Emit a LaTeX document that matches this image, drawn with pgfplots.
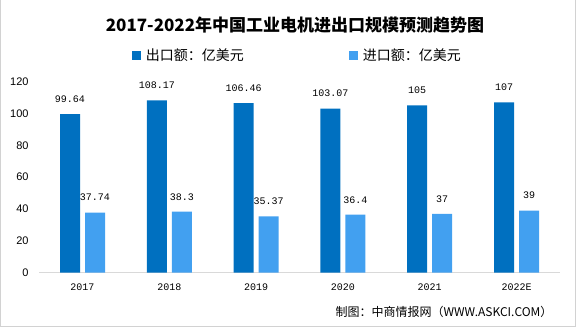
\documentclass[border=0pt]{standalone}
\usepackage{pgfplots}
\pgfplotsset{compat=1.18}
\usepackage{fontspec}
\setmainfont{Liberation Sans}
\newfontfamily\cjk{Noto Sans CJK SC}
\newfontfamily\mono{Liberation Mono}
\definecolor{darkb}{RGB}{0,112,192}
\definecolor{lightb}{RGB}{66,160,240}
\definecolor{axisg}{RGB}{217,217,217}
\definecolor{frameg}{RGB}{210,210,210}
\begin{document}
\begin{tikzpicture}[x=1pt,y=1pt]
\useasboundingbox (0,0) rectangle (581,327);
\draw[frameg, line width=1pt] (0.5,1) rectangle (575,327.5);
\node[font=\cjk\bfseries\fontsize{17}{18}\selectfont] at (295,302) {2017-2022年中国工业电机进出口规模预测趋势图};
\begin{axis}[
  at={(39.1pt,54.3pt)}, anchor=south west,
  scale only axis, width=520.8pt, height=191.1pt,
  xmin=-0.5, xmax=5.5, ymin=0, ymax=120,
  ybar=5pt, bar width=20pt,
  separate axis lines,
  axis x line*=bottom, axis y line*=left,
  x axis line style={draw=axisg, line width=0.8pt, -},
  y axis line style={draw=none},
  tick style={draw=none}, major tick length=0pt,
  ytick={0,20,...,120},
  xtick={0,1,2,3,4,5},
  xticklabels={2017,2018,2019,2020,2021,2022E},
  /pgf/number format/assume math mode=true,
  y tick label style={font=\fontsize{11}{12}\selectfont, xshift=-7pt},
  x tick label style={font=\mono\fontsize{10}{10}\selectfont, yshift=-8pt},
  nodes near coords,
  every node near coord/.append style={font=\mono\fontsize{10}{11}\selectfont, yshift=8pt, text=black},
  point meta=explicit symbolic,
  legend columns=2,
  legend image code/.code={\fill[#1] (0pt,-4.5pt) rectangle (9pt,4.5pt);},
  legend style={draw=none, fill=none, inner sep=0pt, at={(rel axis cs:0.178,1.139)}, anchor=west,
    font=\cjk\fontsize{14}{15}\selectfont,
    nodes={inner sep=0pt},
    /tikz/every odd column/.append style={column sep=5pt},
    /tikz/every even column/.append style={column sep=105pt}},
]
\addplot[fill=darkb, draw=none] coordinates {(0,99.64)[99.64] (1,108.17)[108.17] (2,106.46)[106.46] (3,103.07)[103.07] (4,105)[105] (5,107)[107]};
\addlegendentry{出口额：亿美元}
\addplot[fill=lightb, draw=none] coordinates {(0,37.74)[37.74] (1,38.3)[38.3] (2,35.37)[35.37] (3,36.4)[36.4] (4,37)[37] (5,39)[39]};
\addlegendentry{进口额：亿美元}
\end{axis}
\node[anchor=east, font=\cjk\fontsize{12}{13}\selectfont] at (556,15) {制图：中商情报网（WWW.ASKCI.COM）};
\end{tikzpicture}
\end{document}
